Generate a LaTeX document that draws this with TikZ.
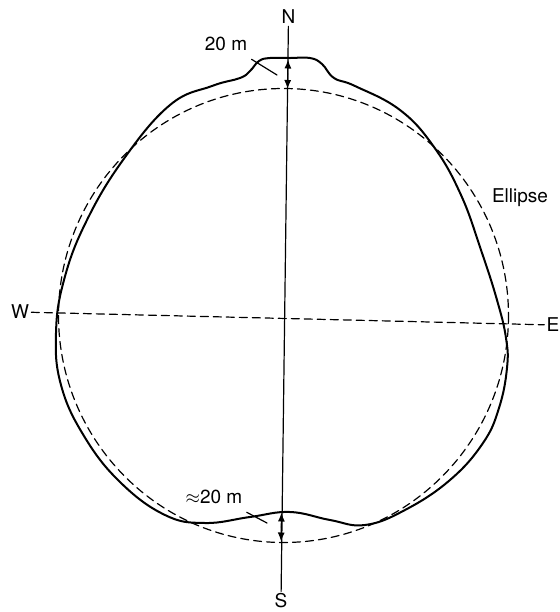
\documentclass[tikz,border=0pt]{standalone}
\usepackage{fontspec}
\setmainfont{TeX Gyre Heros}
\usetikzlibrary{arrows.meta}

\begin{document}
\begin{tikzpicture}[x=0.5pt,y=-0.5pt,>={Latex[length=4.5pt,width=3.5pt]},
  font=\fontsize{9.5}{11}\selectfont,line cap=round,
  lbl/.style={inner sep=1pt},
  outline/.style={line width=1pt,line join=round},
  ellipseline/.style={line width=0.6pt,dash pattern=on 4pt off 2.5pt},
  axisline/.style={line width=0.6pt}]
\useasboundingbox (0,0) rectangle (560,612);
% labels
\node[lbl] (N) at (288.5,17) {N};
\node[lbl] (S) at (281,601) {S};
\node[lbl] (W) at (20,312) {W};
\node[lbl] (E) at (553,325) {E};
\node[lbl] (ell) at (520,198) {Ellipse};
\node[lbl] (top20) at (226,44) {20 m};
\node[lbl] (bot20) at (214,497) {$\approx$20 m};
% ellipse and axes
\draw[ellipseline] (283.5,315.5) ellipse [x radius=225,y radius=227];
\draw[ellipseline] (W) -- (E);
\draw[axisline] (N) -- (S);
% measured outline
\draw[outline] plot[smooth cycle,tension=0.7] coordinates {
  (270,58) (290,58) (310,58) (322,64) (334,78) (355,86)
  (400,110) (434,147) (461,195) (481,250) (497,300) (506,338)
  (507,368) (499,408) (483,443) (450,480) (405,510) (365,525)
  (330,520) (290,512) (250,517) (205,523)
  (165,515) (120,482) (84,436) (61,385) (56,333)
  (64,280) (86,222) (123,160)
  (170,105) (212,86) (240,78) (250,71) (259,61)};
% dimension arrows
\coordinate (nsolid) at (288.05,59.5);
\coordinate (nell) at (287.6,89);
\coordinate (nmid) at (287.8,74);
\draw[axisline,->] (nmid) -- (nsolid);
\draw[axisline,->] (nmid) -- (nell);
\coordinate (ssolid) at (281.5,512.5);
\coordinate (sell) at (281.1,541.5);
\coordinate (smid) at (281.3,527);
\draw[axisline,->] (smid) -- (ssolid);
\draw[axisline,->] (smid) -- (sell);
% leaders
\coordinate (top20end) at (277,75);
\coordinate (bot20end) at (267,523);
\draw[axisline] ([xshift=1pt,yshift=-3pt]top20.south east) -- (top20end);
\draw[axisline] ([xshift=1pt,yshift=-3pt]bot20.south east) -- (bot20end);
\end{tikzpicture}
\end{document}
